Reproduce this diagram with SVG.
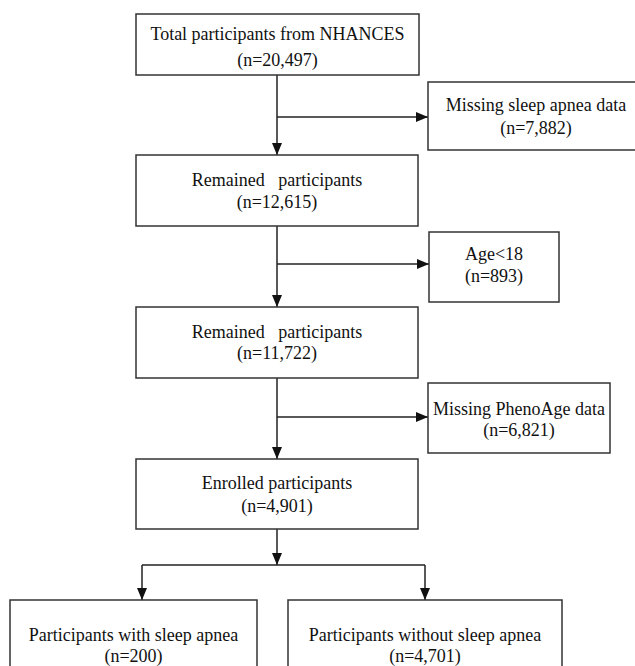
<svg xmlns="http://www.w3.org/2000/svg" width="635" height="666" viewBox="0 0 635 666">
<defs>
<marker id="arr" viewBox="0 0 12 10" refX="12" refY="5" markerWidth="12" markerHeight="10" markerUnits="userSpaceOnUse" orient="auto">
<path d="M0,0 L12,5 L0,10 Z" fill="#111"/>
</marker>
<style>
.box{fill:#fff;stroke:#333;stroke-width:1.5}
.ln{fill:none;stroke:#222;stroke-width:1.5}
text{font-family:"Liberation Serif","Times New Roman",serif;font-size:18px;fill:#111;text-anchor:middle;white-space:pre}
</style>
</defs>
<rect width="635" height="666" fill="#fff"/>
<g id="connectors">
<path class="ln" d="M277,75 V155" marker-end="url(#arr)"/>
<path class="ln" d="M277,117 H428" marker-end="url(#arr)"/>
<path class="ln" d="M277,226 V307" marker-end="url(#arr)"/>
<path class="ln" d="M277,264 H429" marker-end="url(#arr)"/>
<path class="ln" d="M277,378 V459" marker-end="url(#arr)"/>
<path class="ln" d="M277,417 H428" marker-end="url(#arr)"/>
<path class="ln" d="M277,529 V565" marker-end="url(#arr)"/>
<path class="ln" d="M142,565 H425"/>
<path class="ln" d="M142,565 V600" marker-end="url(#arr)"/>
<path class="ln" d="M425,565 V600" marker-end="url(#arr)"/>
</g>
<g id="total">
<rect class="box" x="136" y="14" width="283" height="61"/>
<text x="277.5" y="40">Total participants from NHANCES</text>
<text x="277.5" y="66">(n=20,497)</text>
</g>
<g id="missing-sleep">
<rect class="box" x="428" y="82" width="210" height="68"/>
<text x="536" y="111">Missing sleep apnea data</text>
<text x="536" y="134">(n=7,882)</text>
</g>
<g id="remained1">
<rect class="box" x="136" y="155" width="282" height="71"/>
<text x="277" y="186">Remained   participants</text>
<text x="277" y="208">(n=12,615)</text>
</g>
<g id="age">
<rect class="box" x="429" y="232" width="130" height="70"/>
<text x="494" y="260">Age&lt;18</text>
<text x="494" y="282">(n=893)</text>
</g>
<g id="remained2">
<rect class="box" x="136" y="307" width="282" height="71"/>
<text x="277" y="338">Remained   participants</text>
<text x="277" y="359">(n=11,722)</text>
</g>
<g id="missing-pheno">
<rect class="box" x="428" y="383" width="182" height="70"/>
<text x="519" y="415">Missing PhenoAge data</text>
<text x="519" y="436">(n=6,821)</text>
</g>
<g id="enrolled">
<rect class="box" x="136" y="459" width="282" height="70"/>
<text x="277" y="489">Enrolled participants</text>
<text x="277" y="512">(n=4,901)</text>
</g>
<g id="with-apnea">
<rect class="box" x="10" y="600" width="247" height="80"/>
<text x="133.5" y="641">Participants with sleep apnea</text>
<text x="133.5" y="662">(n=200)</text>
</g>
<g id="without-apnea">
<rect class="box" x="288" y="600" width="274" height="80"/>
<text x="425" y="641">Participants without sleep apnea</text>
<text x="425" y="662">(n=4,701)</text>
</g>
</svg>
